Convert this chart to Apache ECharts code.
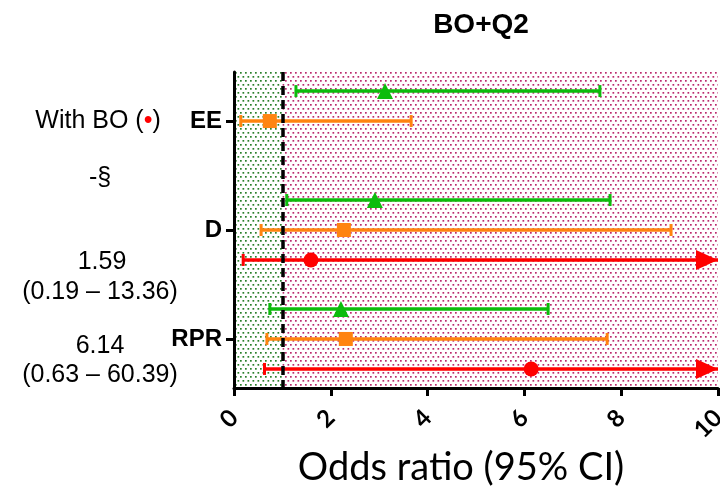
<!DOCTYPE html>
<html lang="en">
<head>
    <meta charset="UTF-8">
    <title>BO+Q2</title>
    <script src="https://cdn.jsdelivr.net/npm/echarts@6/dist/echarts.min.js"></script>
    <style>
        html, body { margin: 0; padding: 0; background: #fff; }
        #main { width: 720px; height: 488px; }
    </style>
</head>
<body>
<div id="main"></div>
<script>
    // categories (top to bottom)
    var categories = ['EE', 'D', 'RPR'];

    // odds ratio + 95% CI for each group, null = not estimable
    var greenOR = [3.12, 2.91, 2.21];
    var greenLo = [1.28, 1.09, 0.74];
    var greenHi = [7.56, 7.77, 6.49];

    var orangeOR = [0.74, 2.27, 2.31];
    var orangeLo = [0.14, 0.56, 0.68];
    var orangeHi = [3.66, 9.03, 7.71];

    var redOR = [null, 1.59, 6.14];
    var redLo = [null, 0.19, 0.63];
    var redHi = [null, 13.36, 60.39];

    var xTicks = [0, 2, 4, 6, 8, 10];
    var refLine = 1;

    var X_MAX = 10;

    // dotted fill patterns
    function dotPattern(color) {
        var c = document.createElement('canvas');
        c.width = 5; c.height = 8;
        var ctx = c.getContext('2d');
        ctx.fillStyle = '#fff';
        ctx.fillRect(0, 0, 5, 8);
        ctx.fillStyle = color;
        ctx.fillRect(0, 0, 1.7, 1.7);
        ctx.fillRect(2.5, 4, 1.7, 1.7);
        return c;
    }

    // row position = category index + small offset per group
    function rows(offset, or, lo, hi) {
        var out = [];
        for (var i = 0; i < categories.length; i++) {
            if (or[i] == null) continue;
            out.push([lo[i], or[i], hi[i], i + 1 + offset]);
        }
        return out;
    }

    function ciRender(color) {
        return function (params, api) {
            var lo = api.value(0), hi = api.value(2), y = api.value(3);
            var pLo = api.coord([lo, y]);
            var pHi = api.coord([Math.min(hi, X_MAX), y]);
            var kids = [{
                type: 'line',
                shape: { x1: pLo[0], y1: pLo[1], x2: pHi[0], y2: pHi[1] },
                style: { stroke: color, lineWidth: 3.5 }
            }, {
                type: 'line',
                shape: { x1: pLo[0], y1: pLo[1] - 6, x2: pLo[0], y2: pLo[1] + 6 },
                style: { stroke: color, lineWidth: 3 }
            }];
            if (hi <= X_MAX) {
                kids.push({
                    type: 'line',
                    shape: { x1: pHi[0], y1: pHi[1] - 6, x2: pHi[0], y2: pHi[1] + 6 },
                    style: { stroke: color, lineWidth: 3 }
                });
            } else {
                kids.push({
                    type: 'polygon',
                    shape: { points: [[pHi[0], pHi[1]], [pHi[0] - 22, pHi[1] - 10], [pHi[0] - 22, pHi[1] + 10]] },
                    style: { fill: color }
                });
            }
            return { type: 'group', children: kids };
        };
    }

    var greenData = rows(-0.275, greenOR, greenLo, greenHi);
    var orangeData = rows(0, orangeOR, orangeLo, orangeHi);
    var redData = rows(0.275, redOR, redLo, redHi);

    var GREEN = '#0cbc0c', ORANGE = '#ff8410', RED = '#ff0000';

    function note(x, y, text) {
        return {
            type: 'text', x: x, y: y,
            style: { text: text, textAlign: 'center', textVerticalAlign: 'middle', font: '25px "Liberation Sans"', fill: '#000' }
        };
    }

    var chart = echarts.init(document.getElementById('main'));
    var option = {
        animation: false,
        title: {
            text: 'BO+Q2',
            left: 476, top: 6,
            textAlign: 'center',
            textStyle: { fontFamily: 'Liberation Sans', fontSize: 28, fontWeight: 'bold', color: '#000' }
        },
        grid: { left: 234, right: 2, top: 72, bottom: 100, containLabel: false, outerBoundsMode: 'none' },
        xAxis: {
            type: 'value',
            min: 0, max: X_MAX, interval: 2,
            name: 'Odds ratio (95% CI)',
            nameLocation: 'middle',
            nameGap: 48,
            nameTextStyle: { fontFamily: 'Lato', fontSize: 38, color: '#000', padding: [0, 30, 0, 0] },
            axisLine: { show: true, onZero: false, lineStyle: { color: '#000', width: 3 } },
            axisTick: { show: true, length: 8, lineStyle: { color: '#000', width: 3 } },
            axisLabel: {
                rotate: 45, margin: 26,
                fontFamily: 'Lato', fontWeight: 'bold', fontSize: 24, color: '#000',
                customValues: xTicks
            },
            splitLine: { show: false }
        },
        yAxis: {
            type: 'value',
            inverse: true,
            min: 0.55, max: 3.45,
            axisLine: { show: true, onZero: false, lineStyle: { color: '#000', width: 3 } },
            axisTick: { show: true, length: 8, lineStyle: { color: '#000', width: 3 }, customValues: [1, 2, 3] },
            axisLabel: {
                customValues: [1, 2, 3],
                margin: 12,
                fontFamily: 'Liberation Sans', fontWeight: 'bold', fontSize: 24, color: '#000',
                formatter: function (v) { return categories[Math.round(v) - 1] || ''; }
            },
            splitLine: { show: false }
        },
        graphic: [
            {
                type: 'text', x: 98, y: 121,
                style: {
                    text: '{a|With BO (}{d|•}{a|)}',
                    textAlign: 'center', textVerticalAlign: 'middle',
                    rich: {
                        a: { fontFamily: 'Liberation Sans', fontSize: 25, fill: '#000' },
                        d: { fontFamily: 'Liberation Sans', fontSize: 25, fill: '#ff0000' }
                    }
                }
            },
            note(100, 178, '-§'),
            note(102, 262, '1.59'),
            note(100, 292, '(0.19 – 13.36)'),
            note(100, 346, '6.14'),
            note(100, 375, '(0.63 – 60.39)')
        ],
        series: [
            {
                type: 'custom',
                name: 'bg',
                data: [],
                coordinateSystem: 'cartesian2d',
                renderItem: function () { return null; },
                markArea: {
                    silent: true,
                    z: 0,
                    data: [
                        [{ xAxis: 0, itemStyle: { color: { image: dotPattern('#2a7f2a'), repeat: 'repeat' } } }, { xAxis: refLine }],
                        [{ xAxis: refLine, itemStyle: { color: { image: dotPattern('#bb2a6e'), repeat: 'repeat' } } }, { xAxis: X_MAX }]
                    ]
                },
                markLine: {
                    silent: true,
                    symbol: 'none',
                    label: { show: false },
                    lineStyle: { color: '#000', width: 3.5, type: [9, 5] },
                    data: [{ xAxis: refLine }]
                }
            },
            { type: 'custom', renderItem: ciRender(GREEN), data: greenData, z: 3 },
            { type: 'custom', renderItem: ciRender(ORANGE), data: orangeData, z: 3 },
            { type: 'custom', renderItem: ciRender(RED), data: redData, z: 3 },
            {
                type: 'scatter', symbol: 'triangle', symbolSize: 16, z: 4,
                itemStyle: { color: GREEN, opacity: 1 },
                data: greenData.map(function (d) { return [d[1], d[3]]; })
            },
            {
                type: 'scatter', symbol: 'rect', symbolSize: 14, z: 4,
                itemStyle: { color: ORANGE, opacity: 1 },
                data: orangeData.map(function (d) { return [d[1], d[3]]; })
            },
            {
                type: 'scatter', symbol: 'circle', symbolSize: 15, z: 4,
                itemStyle: { color: RED, opacity: 1 },
                data: redData.map(function (d) { return [d[1], d[3]]; })
            }
        ]
    };
    chart.setOption(option);
</script>
</body>
</html>
